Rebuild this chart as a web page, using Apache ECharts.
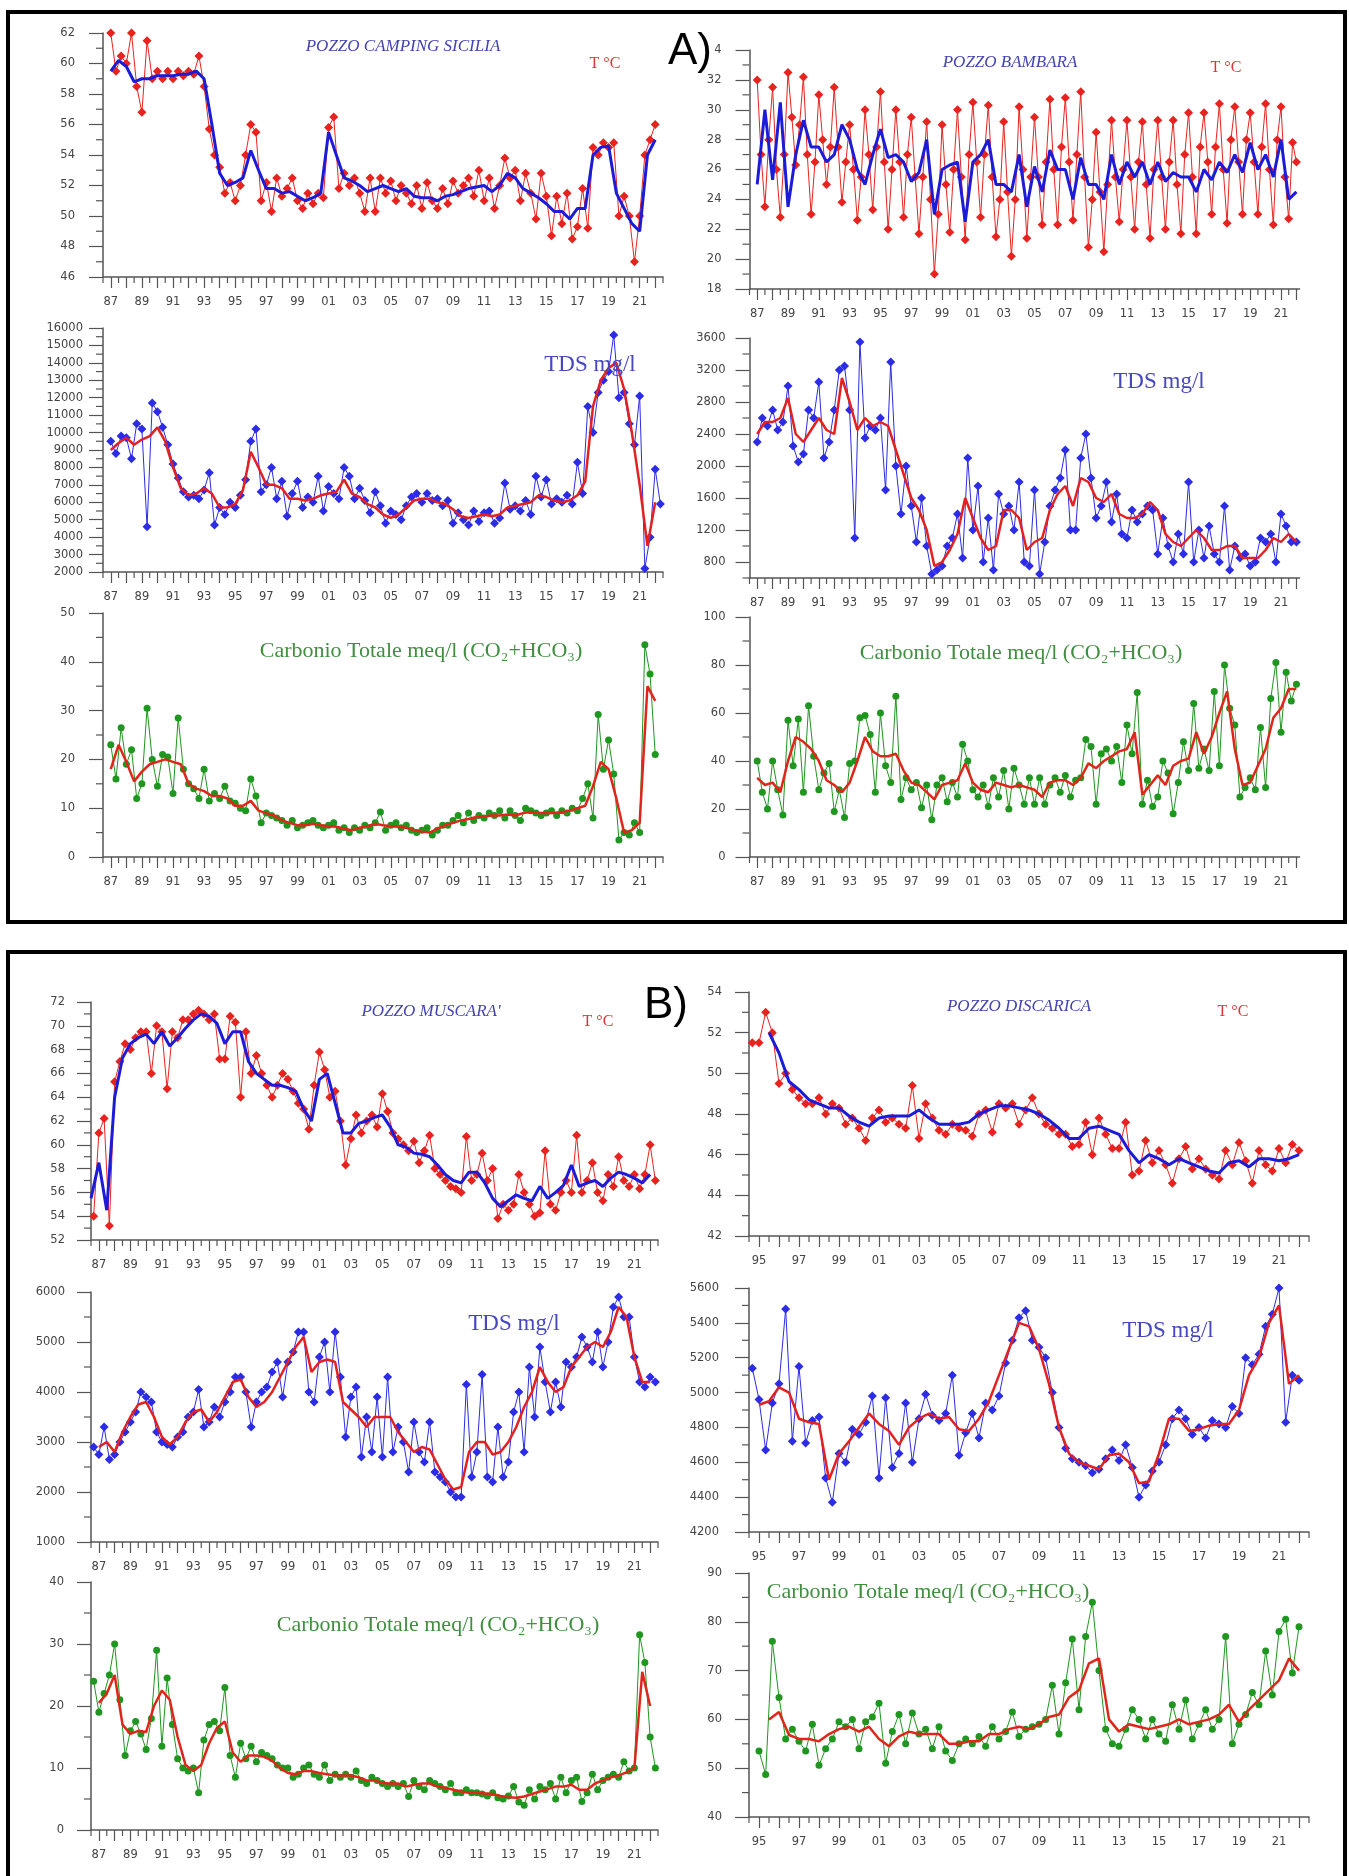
<!DOCTYPE html>
<html><head><meta charset="utf-8">
<script src="https://cdn.jsdelivr.net/npm/echarts@6/dist/echarts.min.js"></script>
<style>html,body{margin:0;padding:0;background:#fff}#c{width:1349px;height:1876px}</style>
</head><body><div id="c"></div>
<script>
// ---------- tick labels ----------
const YEARS_87 = [1987,1989,1991,1993,1995,1997,1999,2001,2003,2005,2007,2009,2011,2013,2015,2017,2019,2021];
const YEARS_95 = [1995,1997,1999,2001,2003,2005,2007,2009,2011,2013,2015,2017,2019,2021];
const TICKS_CAMPING_T = [46,48,50,52,54,56,58,60,62];
const TICKS_BAMBARA_T = [18,20,22,24,26,28,30,32,34];
const TICKS_CAMPING_TDS = [2000,3000,4000,5000,6000,7000,8000,9000,10000,11000,12000,13000,14000,15000,16000];
const TICKS_BAMBARA_TDS = [800,1200,1600,2000,2400,2800,3200,3600];
const TICKS_CAMPING_C = [0,10,20,30,40,50];
const TICKS_BAMBARA_C = [0,20,40,60,80,100];
const TICKS_MUSCARA_T = [52,54,56,58,60,62,64,66,68,70,72];
const TICKS_DISCARICA_T = [42,44,46,48,50,52,54];
const TICKS_MUSCARA_TDS = [1000,2000,3000,4000,5000,6000];
const TICKS_DISCARICA_TDS = [4200,4400,4600,4800,5000,5200,5400,5600];
const TICKS_MUSCARA_C = [0,10,20,30,40];
const TICKS_DISCARICA_C = [40,50,60,70,80,90];

// ---------- series values ----------
// POZZO CAMPING SICILIA  T (3 per year from 1987)
const CAMPING_T = [62,59.5,60.5, 60,62,58.5, 56.8,61.5,59, 59.5,59,59.5, 59,59.5,59.2, 59.5,59.3,60.5,
 58.5,55.7,54, 53.2,51.5,52.2, 51,52,54, 56,55.5,51, 52.2,50.3,52.5, 51.3,51.8,52.5, 51,50.5,51.5,
 50.8,51.5,51.2, 55.8,56.5,51.8, 52.8,52,52.5, 51.5,50.3,52.5, 50.3,52.5,51.5, 52.3,51,52, 51.5,50.8,52,
 50.5,52.2,51, 50.5,51.8,50.8, 52.3,51.5,52, 52.5,51.3,53, 51,52.5,50.5, 52,53.8,52.5, 53,51,52.8,
 51.5,49.8,52.8, 51.3,48.7,51.3, 49.5,51.5,48.5, 49.3,51.8,49.2, 54.5,54,54.8, 54.5,54.8,50,
 51.3,50,47, 50,54,55, 56];
const CAMPING_T_MA = [59.5,60.2, 59.8,58.8, 59,59, 59.2,59.2, 59.2,59.3, 59.3,59.5, 59,56, 52.8,52, 52.2,52.5,
 54.3,53, 51.8,51.8, 51.5,51.6, 51.3,51, 51.2,51.5, 55.5,54, 52.5,52.3, 52,51.6, 51.8,52, 51.8,51.6,
 51.8,51.3, 51.2,51.2, 51,51.3, 51.4,51.6, 51.8,51.9, 52,51.6, 52,52.8, 52.5,51.8, 51.5,51.2, 50.8,50.3,
 50.3,49.8, 50.5,50.5, 54,54.5, 54.6,51.5, 50.5,49.5, 49,54, 55];
// POZZO BAMBARA T (4 per year from 1987)
const BAMBARA_T = [32,27,23.5,28, 31.5,26,22.8,27, 32.5,29.5,26.3,29, 32.2,27,23,26.5, 31,28,25,27.5,
 31.5,27.5,23.8,26.5, 29,26,22.6,25.5, 30,27,23.3,27.5, 31.2,26.5,22,26, 30,26.5,22.8,27,
 29.5,25.5,21.7,25.5, 29.2,24,19,23, 29,25,21.8,26, 30,25.5,21.3,27, 30.5,26.5,22.8,27,
 30.3,25.5,21.5,24, 29.2,24.5,20.2,24, 30.2,26,21.4,25.5, 29.5,25.5,22.3,26.5, 30.7,26,22.3,27.5,
 30.8,26.5,22.6,27, 31.2,25.5,20.8,24, 28.5,24.5,20.5,25, 29.3,25.5,22.5,26, 29.3,25.5,22,26.5,
 29.2,25,21.4,26, 29.3,25.5,22,26.5, 29.3,25,21.7,27, 29.8,25.5,21.7,27.5, 29.8,26.5,23,27.5,
 30.4,26,22.4,28, 30.2,26.5,23,28, 29.8,26.5,23,27.5, 30.4,26,22.3,28, 30.2,25.5,22.7,27.8, 26.5];
const BAMBARA_T_MA = [25,30, 25.3,30.5, 23.5,27, 29.3,27.5, 27.5,26.5, 27,29, 28,26, 25,27, 28.7,26.8,
 27,26.5, 25.2,25.8, 28,23, 26,26.3, 26.5,22.5, 26.5,27, 28,25, 25,24.5, 27,23.5, 26.2,24.5, 27.3,26,
 26,24, 26.8,25, 25,24, 27,25, 26.5,25.5, 26.5,25, 26.5,25.2, 25.8,25.5, 25.5,24.5, 26,25.3,
 26.5,25.8, 27,25.8, 27.8,26, 27,25.5, 28,24, 24.5];
// CAMPING TDS (3 per year from 1987)
const CAMPING_TDS = [9500,8800,9800, 9700,8500,10500, 10200,4600,11700, 11200,10300,9300, 8200,7400,6600,
 6300,6400,6200, 6700,7700,4700, 5700,5300,6000, 5700,6400,7300, 9500,10200,6600, 7000,8000,6200,
 7200,5200,6500, 7200,5700,6300, 6000,7500,5500, 6900,6500,6200, 8000,7500,6200, 6800,6100,5400,
 6600,5800,4800, 5500,5300,5000, 5800,6300,6500, 6000,6500,6100, 6200,5800,6100, 4800,5400,5000,
 4700,5500,4900, 5400,5500,4800, 5100,7100,5600, 5800,5500,6100, 5300,7500,6300, 7300,5900,6200,
 6000,6400,5900, 8300,6500,11500, 10000,12300,13000, 13500,15600,12000, 12300,10500,9300,
 12100,2200,4000, 7900,5900];
const CAMPING_TDS_MA = [9000,9400, 9700,9300, 9600,9800, 10300,9500, 8000,6800, 6400,6500, 6800,6500,
 5700,5700, 5900,6700, 8900,8000, 7000,7000, 6800,6200, 6200,6100, 6200,6400, 6500,6600, 7300,6500,
 6300,5900, 5700,5300, 5100,5300, 5700,6100, 6200,6200, 6000,5900, 5600,5200, 5100,5200, 5300,5200,
 5300,5700, 5800,5900, 6000,6400, 6300,6100, 6000,6100, 6400,7200, 11500,13000, 13700,14000,
 12500,10000, 7000,3500, 6000];
// BAMBARA TDS (3 per year from 1987)
const BAMBARA_TDS = [2300,2600,2500, 2700,2450,2550, 3000,2250,2050, 2150,2700,2600, 3050,2100,2300,
 2700,3200,3250, 2700,1100,3550, 2350,2500,2450, 2600,1700,3300, 2000,1400,2000, 1500,1050,1600,
 1000,650,700, 750,1000,1100, 1400,850,2100, 1200,1750,800, 1350,700,1650, 1400,1500,1200,
 1800,800,750, 1700,650,1050, 1500,1700,1850, 2200,1200,1200, 2100,2400,1850, 1350,1500,1800,
 1300,1650,1150, 1100,1450,1300, 1400,1500,1450, 900,1350,1000, 800,1150,900, 1800,800,1200,
 850,1250,900, 800,1500,700, 1000,850,900, 750,800,1100, 1050,1150,800, 1400,1250,1050, 1050];
const BAMBARA_TDS_MA = [2400,2550, 2550,2600, 2850,2400, 2300,2450, 2600,2450, 2400,3100, 2800,2450,
 2600,2500, 2550,2500, 2200,1900, 1600,1450, 1200,750, 800,950, 1150,1600, 1350,1100, 950,1000,
 1450,1450, 1350,950, 1050,1100, 1450,1650, 1750,1500, 1850,1800, 1600,1550, 1650,1400, 1350,1350,
 1400,1550, 1450,1150, 1050,1000, 1100,1200, 1100,950, 950,1000, 1000,850, 850,850, 950,1100,
 1050,1150, 1050];
// CAMPING Carbonio totale (3 per year from 1987)
const CAMPING_C = [23,16,26.5, 19,22,12, 15,30.5,20, 14.5,21,20.5, 13,28.5,18, 15,14,12, 18,11.5,13,
 12,14.5,11.5, 11,10,9.5, 16,12.5,7, 9,8.5,8, 7.5,6.5,7.5, 6,6.5,7, 7.5,6.5,6, 6.5,7,5.5, 6,5,6,
 5.5,6.5,6, 7,9.2,5.5, 6.5,7,6, 6.5,5.5,5, 5.5,6,4.5, 5.5,6.5,6.5, 7.5,8.5,7, 9,7.5,8.5, 8,9,8.5,
 9.5,8,9.5, 8.5,7.5,10, 9.5,9,8.5, 9,9.5,8.5, 9.5,9,10, 9.5,12,15, 8,29.2,18, 24,17,3.5,
 5,4.5,7, 5,43.5,37.5, 21];
const CAMPING_C_MA = [18,23, 19.5,15.5, 17.5,19, 19.5,20, 19.5,19, 15,14, 13.5,12.5, 12.5,12, 10.5,10.5,
 11.5,9.5, 9,8.5, 7.5,7, 6.5,6.5, 6.8,6.5, 6.3,6.2, 5.8,5.5, 6,6.3, 6.8,6.5, 6.3,6.2, 6,5.5, 5.2,5,
 5.8,6.5, 7,7.5, 7.8,8.2, 8.3,8.5, 8.5,8.7, 8.5,9, 9.2,9, 9,9, 9.2,9.5, 10,10.5, 14.5,19.5, 18,12,
 5,5.5, 7,35, 32];
// BAMBARA Carbonio totale (3 per year from 1987)
const BAMBARA_C = [40,27,20, 40,28,17.5, 57,38,57.5, 27,63,42, 28,35,39, 19,28,16.5, 39,40,58, 59,51,27,
 60,38,31, 67,24,33, 28,31,20.5, 30,15.5,30, 33,23,31, 25,47,40, 28,25,30, 21,33,25, 36,20,37,
 30,22,33, 22,33,22, 30,33,27, 34,25,32, 33,49,46, 22,43,45, 40,46,31, 55,43,68.5, 22,32,21,
 25,40,35, 18,31,48, 36,64,37, 45,36,69, 38,80,62, 55,25,29, 33,28,54, 29,66,81, 52,77,65, 72];
const BAMBARA_C_MA = [33,30, 31,27, 40,50, 48,45, 40,32, 30,27, 31,40, 50,44, 42,42, 43,36, 31,30,
 27,24, 30,31, 32,39, 31,28, 27,31, 30,29, 30,29, 28,25, 31,32, 32,30, 33,39, 37,40, 42,44, 45,52,
 26,30, 34,30, 38,40, 41,52, 43,50, 60,69, 45,30, 31,38, 45,58, 62,70, 70];
// POZZO MUSCARA' T (3 per year from 1986.67)
const MUSCARA_T = [54,61,62.2,53.2,65.3,67,68.5,68,69,69.5,69.5,66,70,69.5,64.7,69.5,69,70.5,70.5,71,
 71.3,71,70.5,71,67.2,67.2,70.8,70.3,64,69.5,66,67.5,66,65,64,65,66,65.5,64.5,63.5,63,61.3,65,67.8,
 66.3,64,64.5,62,58.3,60.5,62.5,61,62,62.5,61.5,64.3,62.8,61,60.5,60,59.5,60.3,58.5,59.5,60.8,58,
 57.5,57,56.5,56.3,56,60.7,57,57.5,59.3,57,58,53.8,55,54.5,55,57.5,56,55,54,54.3,59.5,55,54.5,56,
 57,56,60.8,56,57,58.5,56,55.3,57.5,56.5,59,57,56.5,57.5,56.3,57.5,60,57];
const MUSCARA_T_MA = [55.5,58.5,54.5,64,67.3,68.5,69,69.3,68.5,69.5,68.3,69,69.8,70.5,71,70.8,70.2,68.5,
 69.5,69.5,67,66,65.5,65,65,64.8,64.5,63,62,65.5,66,63.5,61,61,61.8,62,62.3,62.5,61.5,60,59.8,59.3,
 59.2,59,58.3,57.5,57,56.8,57.7,57.7,56.8,55.5,54.8,55.3,55.8,55.5,55.3,56.5,55.5,56,56.6,58.3,56.5,
 56.8,57,56.5,57.2,57.7,57.5,57.2,56.8,57.5];
// POZZO DISCARICA T (3 per year from 1994.67)
const DISCARICA_T = [51.5, 51.5,53,52, 49.5,50,49.2, 48.8,48.5,48.5, 48.8,48,48.5, 48.3,47.5,47.8,
 47.3,46.7,47.8, 48.2,47.6,47.8, 47.5,47.3,49.4, 46.8,48.5,47.8, 47.2,47,47.5, 47.3,47.2,46.9,
 48,48.2,47.1, 48.5,48.3,48.5, 47.5,48.2,48.8, 48,47.5,47.3, 47,47,46.4, 46.5,47.6,46, 47.8,47,46.3,
 46.3,47.6,45, 45.2,46.7,45.6, 46.2,45.5,44.6, 45.8,46.4,45.3, 45.8,45.3,45, 44.8,46.2,45.5,
 46.6,45.7,44.6, 46.2,45.5,45.2, 46.3,45.6,46.5, 46.2];
const DISCARICA_T_MA = [52,51,49.6,49.2,48.7,48.5,48.3,48.3,47.9,47.6,47.4,47.8,47.9,47.9,47.9,48.2,47.8,
 47.5,47.5,47.5,47.6,48,48.2,48.4,48.4,48.3,48.2,48,47.7,47.3,46.8,46.8,47.3,47.4,47.2,47,46.2,45.6,
 46,45.8,45.5,45.8,45.6,45.4,45.2,45.1,45.6,45.7,45.4,45.8,45.8,45.7,45.8,46];
// MUSCARA' TDS (3 per year from 1986.67)
const MUSCARA_TDS = [2900, 2750,3300,2650, 2750,3000,3200, 3400,3600,4000, 3900,3800,3200, 3000,2950,2900,
 3100,3200,3500, 3600,4050,3300, 3400,3700,3500, 3800,4000,4300, 4300,4000,3300, 3800,4000,4100,
 4400,4600,3900, 4600,4800,5200, 5200,4000,3800, 4700,5000,4000, 5200,4300,3100, 3900,4100,2700,
 3500,2800,3900, 2700,4300,2800, 3300,3000,2400, 3400,2800,2600, 3400,2400,2300, 2200,2000,1900,
 1900,4150,2300, 2800,4350,2300, 2200,3300,2300, 2600,3600,4000, 2800,4500,3500, 4900,4200,3600,
 4200,3700,4600, 4500,4700,5100, 4900,4600,5200, 4500,5000,5700, 5900,5500,5500, 4700,4200,4100,
 4300,4200];
const MUSCARA_TDS_MA = [2900,3000,2800,3200,3500,3750,3800,3500,3100,2950,3100,3400,3600,3650,3400,3600,
 3900,4200,4250,3900,3700,3800,4000,4300,4600,4900,5100,4400,4600,4650,4600,3800,3650,3500,3300,3500,
 3500,3500,3200,3000,2800,2900,2850,2550,2250,2050,2100,2800,3000,3000,2750,2800,3000,3300,3700,4000,
 4500,4200,4000,4100,4500,4700,4900,5000,4900,5200,5700,5500,4700,4200,4200];
// DISCARICA TDS (3 per year from 1994.67)
const DISCARICA_TDS = [5140, 4960,4670,4940, 5050,5480,4720, 5150,4710,4840, 4860,4510,4370, 4650,4600,4790,
 4760,4830,4980, 4510,4970,4570, 4650,4940,4600, 4850,4990,4870, 4840,4880,5100, 4640,4770,4880,
 4740,4940,4900, 4980,5170,5300, 5430,5470,5300, 5260,5200,5000, 4800,4680,4620, 4600,4580,4540,
 4560,4620,4670, 4610,4700,4570, 4400,4470,4550, 4600,4700,4850, 4900,4850,4760, 4800,4740,4840,
 4820,4800,4920, 4880,5200,5160, 5220,5380,5450, 5600,4830,5100, 5070];
const DISCARICA_TDS_MA = [4930,4950,5030,5000,4850,4830,4820,4500,4650,4720,4800,4880,4820,4780,4700,4800,
 4850,4880,4850,4860,4790,4780,4850,4950,5100,5250,5400,5380,5250,5050,4800,4650,4600,4580,4560,4640,
 4650,4600,4480,4490,4650,4850,4850,4780,4790,4810,4820,4820,4900,5100,5200,5400,5500,5050,5100];
// MUSCARA' Carbonio totale (3 per year from 1986.67)
const MUSCARA_C = [24, 19,22,25, 30,21,12, 16,17.5,15.5, 13,18,29, 13.5,24.5,17, 11.5,10,9.5, 10,6,14.5,
 17,17.5,16, 23,12,8.5, 14,11.5,13.5, 11,12.5,12, 11.5,10.5,10, 10,8.5,9, 10,10.5,9, 8.5,10.5,8,
 9,8.5,9, 8.5,9.5,8, 7.5,8.5,8, 7.5,7,7.5, 7,7.5,5.4, 8,7,6.5, 8,7.5,7, 6.5,7.5,6, 6,6.5,6,
 6,5.8,5.5, 6,5.2,5, 5.5,7,4.5, 4,6.5,5, 7,6.5,7.5, 5,8.5,6, 8,8.5,4.6, 6,9,6.5, 8,8.5,9,
 8.5,11,9.5, 10,31.5,27, 15,10];
const MUSCARA_C_MA = [20.5,22,25,17,15.5,16,15.8,20,22.5,21,15,10.5,9.5,10.5,14,16.5,17.5,12.5,11,12,12,
 11.8,11.2,10,9.2,9,9.5,9.5,9.2,9,8.8,8.8,8.8,8.5,8,8,7.6,7.5,7.5,7,7.3,7.5,7.5,7,6.8,6.5,6.2,6,6,
 5.9,5.8,5.5,5.3,5.2,5.4,5.8,6.2,6.6,7,7,7.3,6.5,6.5,7.5,8,8.5,8.8,9.3,10,25.5,20];
// DISCARICA Carbonio totale (3 per year from 1995)
const DISCARICA_C = [53.5,48.7,76, 64.5,56,58, 55.5,53.5,59, 50.6,54,56, 59.5,58.5,60, 54,59.5,60.5,
 63.3,51,57.5, 61,55,61.3, 57,58,54, 58.5,53.5,51.6, 55,56,55, 56.5,54.5,58.5, 56,57.5,61.5,
 56.5,58,58.5, 59,60,67, 57,67.5,76.5, 62,77,84, 70,58,55, 54.5,58,62, 60,56,60, 57,55.5,63,
 58,64,56, 59,62,58, 60,77,55, 59,61,65.5, 63,74,65, 78,80.5,69.5, 79];
const DISCARICA_C_MA = [60,61.5,56.8,56,56,55.5,57,58,58.5,57.5,58.5,56,54.5,56.5,57.5,57,57,57,55,55,55.5,
 55.5,57,57,58,58.5,58,59,60.5,61,64.5,66,71.5,72.5,60,57.5,59,58.5,58,58.5,59,60,59,59.5,60,61,63,
 59.5,62,64,66,68,72.5,70];

// ---------- panel layout ----------
const PANELS = [
 {g:[103,33,560,244],   x:[1986.5,2022.5], xl:YEARS_87, y:[46,62],      yl:TICKS_CAMPING_T,    ym:1,   k:'T',   raw:CAMPING_T,   r0:1987,    rs:1/3, ma:CAMPING_T_MA,   m0:1987,   lm:28},
 {g:[749.5,50,550,239], x:[1986.5,2022.2], xl:YEARS_87, y:[18,34],      yl:TICKS_BAMBARA_T,    ym:1,   k:'T',   raw:BAMBARA_T,   r0:1987,    rs:0.25,ma:BAMBARA_T_MA,   m0:1987,   lm:28},
 {g:[103,328,560,244],  x:[1986.5,2022.5], xl:YEARS_87, y:[2000,16000], yl:TICKS_CAMPING_TDS,  ym:500, k:'TDS', raw:CAMPING_TDS, r0:1987,    rs:1/3, ma:CAMPING_TDS_MA, m0:1987,   lm:20},
 {g:[749.5,338,550,240],x:[1986.5,2022.2], xl:YEARS_87, y:[600,3600],   yl:TICKS_BAMBARA_TDS,  ym:200, k:'TDS', raw:BAMBARA_TDS, r0:1987,    rs:1/3, ma:BAMBARA_TDS_MA, m0:1987,   lm:24},
 {g:[103,613,560,244],  x:[1986.5,2022.5], xl:YEARS_87, y:[0,50],       yl:TICKS_CAMPING_C,    ym:5,   k:'C',   raw:CAMPING_C,   r0:1987,    rs:1/3, ma:CAMPING_C_MA,   m0:1987,   lm:28},
 {g:[749.5,617,550,240],x:[1986.5,2022.2], xl:YEARS_87, y:[0,100],      yl:TICKS_BAMBARA_C,    ym:10,  k:'C',   raw:BAMBARA_C,   r0:1987,    rs:1/3, ma:BAMBARA_C_MA,   m0:1987,   lm:24},
 {g:[91,1002,567,238],  x:[1986.5,2022.5], xl:YEARS_87, y:[52,72],      yl:TICKS_MUSCARA_T,    ym:1,   k:'T',   raw:MUSCARA_T,   r0:1986+2/3,rs:1/3, ma:MUSCARA_T_MA,   m0:1986.5, lm:26},
 {g:[749,992,560,244],  x:[1994.5,2022.5], xl:YEARS_95, y:[42,54],      yl:TICKS_DISCARICA_T,  ym:1,   k:'T',   raw:DISCARICA_T, r0:1994+2/3,rs:1/3, ma:DISCARICA_T_MA, m0:1995.5, lm:27},
 {g:[91,1292,567,250],  x:[1986.5,2022.5], xl:YEARS_87, y:[1000,6000],  yl:TICKS_MUSCARA_TDS,  ym:500, k:'TDS', raw:MUSCARA_TDS, r0:1986+2/3,rs:1/3, ma:MUSCARA_TDS_MA, m0:1987,   lm:26},
 {g:[749,1288,560,244], x:[1994.5,2022.5], xl:YEARS_95, y:[4200,5600],  yl:TICKS_DISCARICA_TDS,ym:100, k:'TDS', raw:DISCARICA_TDS,r0:1994+2/3,rs:1/3,ma:DISCARICA_TDS_MA,m0:1995,   lm:30},
 {g:[91,1582,567,248],  x:[1986.5,2022.5], xl:YEARS_87, y:[0,40],       yl:TICKS_MUSCARA_C,    ym:5,   k:'C',   raw:MUSCARA_C,   r0:1986+2/3,rs:1/3, ma:MUSCARA_C_MA,   m0:1987,   lm:27},
 {g:[749,1573,560,244], x:[1994.5,2022.5], xl:YEARS_95, y:[40,90],      yl:TICKS_DISCARICA_C,  ym:5,   k:'C',   raw:DISCARICA_C, r0:1995,    rs:1/3, ma:DISCARICA_C_MA, m0:1995.5, lm:27}
];

const STYLE = {
 T:   {raw:'#e8231f', sym:'diamond', size:9,   ma:'#1c1cd8', w:3},
 TDS: {raw:'#2c2ce6', sym:'diamond', size:9,   ma:'#e42020', w:2.5},
 C:   {raw:'#1f961f', sym:'circle',  size:7,   ma:'#e0261a', w:2.5}
};
const AX = '#555';

function pairs(vals, start, step){ return vals.map((v,i)=>[Math.round((start+i*step)*1000)/1000, v]); }

const grids=[], xAxes=[], yAxes=[], series=[], minorX=[], minorY=[];
PANELS.forEach((p,i)=>{
  grids.push({left:p.g[0], top:p.g[1], width:p.g[2], height:p.g[3], containLabel:false, outerBoundsMode:'none'});
  const yrs=[], halves=[];
  for(let y=Math.ceil(p.x[0]); y<=p.x[1]; y++){ yrs.push(y); if(y+0.5<=p.x[1]) halves.push(y+0.5); }
  if (p.x[0] % 1 !== 0) halves.unshift(p.x[0]);
  minorX.push(halves);
  const lblFont = {fontFamily:'DejaVu Sans', fontSize:11.5, color:'#444'};
  xAxes.push({gridIndex:i, type:'value', min:p.x[0], max:p.x[1],
    axisLine:{show:true, onZero:false, lineStyle:{color:AX, width:1.5}},
    axisTick:{show:true, customValues:yrs, length:11, lineStyle:{color:AX, width:1.2}},
    axisLabel:Object.assign({show:true, customValues:p.xl, margin:19, formatter:v=>String(Math.round(v)%100).padStart(2,'0')}, lblFont),
    splitLine:{show:false}});
  const minors=[];
  for(let v=p.y[0]; v<=p.y[1]+1e-9; v+=p.ym){ if(p.yl.indexOf(v)<0) minors.push(v); }
  minorY.push(minors);
  yAxes.push({gridIndex:i, type:'value', min:p.y[0], max:p.y[1],
    axisLine:{show:true, onZero:false, lineStyle:{color:AX, width:1.5}},
    axisTick:{show:true, customValues:p.yl, length:14, lineStyle:{color:AX, width:1.2}},
    axisLabel:Object.assign({show:true, customValues:p.yl, margin:p.lm, formatter:v=>String(v)}, lblFont),
    splitLine:{show:false}});
  const s=STYLE[p.k];
  series.push({type:'line', xAxisIndex:i, yAxisIndex:i, data:pairs(p.raw,p.r0,p.rs),
    symbol:s.sym, symbolSize:s.size, showAllSymbol:true, itemStyle:{color:s.raw},
    lineStyle:{color:s.raw, width:1}, z:2, silent:true, animation:false});
  series.push({type:'line', xAxisIndex:i, yAxisIndex:i, data:pairs(p.ma,p.m0,0.5),
    symbol:'none', lineStyle:{color:s.ma, width:s.w}, z:3, silent:true, animation:false});
});

function txt(text,x,y,font,color,extra){
  return {type:'text', z:100, silent:true, style:Object.assign({text:text, x:x, y:y, font:font, fill:color,
    textAlign:'center', textVerticalAlign:'middle', align:'center', verticalAlign:'middle'}, extra||{})};
}
const TITLE_F = 'italic 17px "Liberation Serif"';
const TC_F = '16px "Liberation Serif"';
const TDS_F = '23px "Liberation Serif"';
const C_F = '22px "Liberation Serif"';
const CARB = 'Carbonio Totale meq/l (CO\u2082+HCO\u2083)';
const graphics = [
  {type:'rect', z:90, silent:true, shape:{x:8,y:12,width:1337,height:910}, style:{fill:'none', stroke:'#000', lineWidth:4}},
  {type:'rect', z:90, silent:true, shape:{x:8,y:952,width:1337,height:960}, style:{fill:'none', stroke:'#000', lineWidth:4}},
  txt('POZZO CAMPING SICILIA',403,47,TITLE_F,'#4343b3'),
  txt('T \u00B0C',605,64,TC_F,'#d63838'),
  txt('A)',690,52,'44px "Liberation Sans"','#000',{backgroundColor:'#fff', padding:[0,2]}),
  txt('POZZO BAMBARA',1010,63,TITLE_F,'#4343b3'),
  txt('T \u00B0C',1226,68,TC_F,'#d63838'),
  txt('TDS mg/l',590,365,TDS_F,'#4747c2'),
  txt('TDS mg/l',1159,382,TDS_F,'#4747c2'),
  txt(CARB,421,651,C_F,'#3f8f3f'),
  txt(CARB,1021,653,C_F,'#3f8f3f'),
  txt("POZZO MUSCARA'",431,1012,TITLE_F,'#4343b3'),
  txt('T \u00B0C',598,1022,TC_F,'#d63838'),
  txt('B)',666,1006,'44px "Liberation Sans"','#000'),
  txt('POZZO DISCARICA',1019,1007,TITLE_F,'#4343b3'),
  txt('T \u00B0C',1233,1012,TC_F,'#d63838'),
  txt('TDS mg/l',514,1324,TDS_F,'#4747c2'),
  txt('TDS mg/l',1168,1331,TDS_F,'#4747c2'),
  txt(CARB,438,1625,C_F,'#3f8f3f'),
  txt(CARB,928,1592,C_F,'#3f8f3f')
];

const chart = echarts.init(document.getElementById('c'), null, {renderer:'canvas', width:1349, height:1876});
chart.setOption({backgroundColor:'#fff', animation:false, grid:grids, xAxis:xAxes, yAxis:yAxes, series:series});

// minor ticks placed through the library's own scales
PANELS.forEach((p,i)=>{
  minorX[i].forEach(v=>{
    const pt = chart.convertToPixel({gridIndex:i}, [v, p.y[0]]);
    graphics.push({type:'line', z:50, silent:true, shape:{x1:pt[0], y1:pt[1], x2:pt[0], y2:pt[1]+6}, style:{stroke:AX, lineWidth:1.2}});
  });
  minorY[i].forEach(v=>{
    const pt = chart.convertToPixel({gridIndex:i}, [p.x[0], v]);
    graphics.push({type:'line', z:50, silent:true, shape:{x1:pt[0]-7, y1:pt[1], x2:pt[0], y2:pt[1]}, style:{stroke:AX, lineWidth:1.2}});
  });
});
chart.setOption({graphic:graphics});
</script></body></html>
